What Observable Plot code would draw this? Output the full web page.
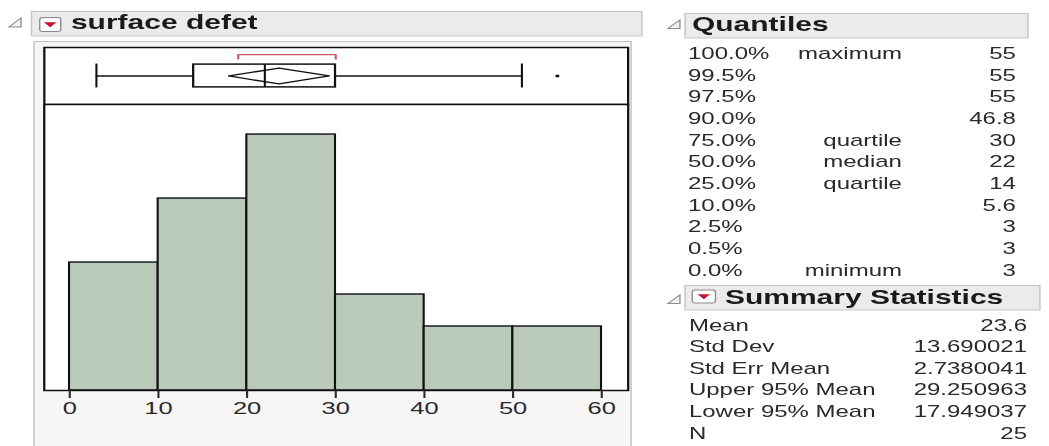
<!DOCTYPE html>
<html>
<head>
<meta charset="utf-8">
<script src="https://cdn.jsdelivr.net/npm/d3@7"></script>
<script src="https://cdn.jsdelivr.net/npm/@observablehq/plot@0.6"></script>
<style>
  html, body { margin: 0; padding: 0; background: #fff; overflow: hidden; width: 1049px; height: 446px; }
  #stage { position: absolute; left: 0; top: 0; width: 699.33px; height: 446px;
           transform: scaleX(1.5); transform-origin: 0 0;
           font-family: "Liberation Sans", Arial, sans-serif; color: #2a2a2a; }
  .layer { position: absolute; }
</style>
</head>
<body>
<div id="stage">
  <svg id="decor" class="layer" style="left:0;top:0" width="699.33" height="446"></svg>
  <div id="boxplot" class="layer" style="left:28.7px;top:47px;width:389.3px;height:57px"></div>
  <div id="hist" class="layer" style="left:28.7px;top:104px;width:389.3px;height:330px"></div>
  <svg id="tables" class="layer" style="left:0;top:0" width="699.33" height="446"></svg>
</div>
<script>
// ---- data ----
const title = "surface defet";
const binEdges = [0, 10, 20, 30, 40, 50, 60];
const binCounts = [4, 6, 8, 3, 2, 2];
const xTicks = [0, 10, 20, 30, 40, 50, 60];
const quartiles = [14, 22, 30];          // Q1, median, Q3
const whiskers = [3, 51];
const outliers = [55];
const meanValue = 23.6;
const meanCI = [17.949037, 29.250963];
const shortestHalf = [19, 30];

const quantilePct = ["100.0%", "99.5%", "97.5%", "90.0%", "75.0%", "50.0%", "25.0%", "10.0%", "2.5%", "0.5%", "0.0%"];
const quantileLabel = ["maximum", "", "", "", "quartile", "median", "quartile", "", "", "", "minimum"];
const quantileValue = ["55", "55", "55", "46.8", "30", "22", "14", "5.6", "3", "3", "3"];
const summaryLabels = ["Mean", "Std Dev", "Std Err Mean", "Upper 95% Mean", "Lower 95% Mean", "N"];
const summaryValues = ["23.6", "13.690021", "2.7380041", "29.250963", "17.949037", "25"];

// ---- decoration (panels, header bars, icons) ----
const decor = d3.select("#decor");
decor.append("rect").attr("x", 22.7).attr("y", 41.5).attr("width", 398).attr("height", 420)
  .attr("fill", "#f6f6f6").attr("stroke", "#c4c4c4").attr("stroke-width", 1);
function headerBar(x, y, w, h) {
  decor.append("rect").attr("x", x).attr("y", y).attr("width", w).attr("height", h)
    .attr("fill", "#ebebeb").attr("stroke", "#c6c6c6").attr("stroke-width", 1);
}
headerBar(21, 11.5, 407, 24.5);
headerBar(456.7, 13.5, 228.6, 24.5);
headerBar(456.7, 285.5, 236.6, 24.5);
function disclosure(xr, yt, yb, w) {
  decor.append("path").attr("d", `M${xr},${yt}L${xr},${yb}L${xr - w},${yb}Z`)
    .attr("fill", "#f2f2f2").attr("stroke", "#8c8c8c").attr("stroke-width", 0.9);
}
disclosure(14, 18, 27, 8);
disclosure(453.3, 20, 28.5, 8);
disclosure(453.3, 295, 303.5, 8);
function redIcon(x, y, w, h) {
  decor.append("rect").attr("x", x).attr("y", y).attr("width", w).attr("height", h).attr("rx", 2)
    .attr("fill", "#fff").attr("stroke", "#8a8a8a").attr("stroke-width", 0.9);
  const cx = x + w / 2, cy = y + h / 2;
  decor.append("path").attr("d", `M${cx - 4.2},${cy - 2.3}L${cx + 4.2},${cy - 2.3}L${cx},${cy + 2.8}Z`)
    .attr("fill", "#c4122f");
}
redIcon(26.5, 17.5, 14, 14);
redIcon(461.5, 290, 15.5, 13);

// ---- box plot strip ----
const xDomain = [-2.876, 62.98];
const W = 389.3;
const boxPlot = Plot.plot({
  width: W, height: 57, margin: 0,
  x: {domain: xDomain, axis: null},
  y: {domain: [-1, 1], axis: null},
  style: {background: "transparent", overflow: "visible"},
  marks: [
    Plot.frame({fill: "#fff", stroke: "#111", strokeWidth: 1.5}),
    Plot.ruleY([{y: 0, a: whiskers[0], b: whiskers[1]}], {y: "y", x1: "a", x2: "b", stroke: "#111", strokeWidth: 1.5}),
    Plot.ruleX(whiskers, {x: d => d, y1: -0.42, y2: 0.42, stroke: "#111", strokeWidth: 1.4}),
    Plot.rect([{a: quartiles[0], b: quartiles[2]}], {x1: "a", x2: "b", y1: -0.4, y2: 0.4, fill: "#fff", stroke: "#111", strokeWidth: 1.5}),
    Plot.line([
      {x: meanCI[0], y: 0}, {x: meanValue, y: 0.28}, {x: meanCI[1], y: 0},
      {x: meanValue, y: -0.28}, {x: meanCI[0], y: 0}
    ], {x: "x", y: "y", stroke: "#111", strokeWidth: 1.3}),
    Plot.ruleX([quartiles[1]], {x: d => d, y1: -0.4, y2: 0.4, stroke: "#111", strokeWidth: 1.4}),
    Plot.dot(outliers, {x: d => d, y: () => 0, r: 1.4, symbol: "square", fill: "#111", stroke: null}),
    Plot.line([
      {x: shortestHalf[0], y: 0.6}, {x: shortestHalf[0], y: 0.75},
      {x: shortestHalf[1], y: 0.75}, {x: shortestHalf[1], y: 0.6}
    ], {x: "x", y: "y", stroke: "#c9566f", strokeWidth: 1.4})
  ]
});
document.getElementById("boxplot").appendChild(boxPlot);

// ---- histogram ----
const bins = binCounts.map((c, i) => ({x1: binEdges[i], x2: binEdges[i + 1], count: c}));
const hist = Plot.plot({
  width: W, height: 286 + 40,
  marginLeft: 0, marginRight: 0, marginTop: 0, marginBottom: 40,
  x: {domain: xDomain},
  y: {domain: [0, 8.94], axis: null},
  style: {background: "transparent", overflow: "visible", fontSize: "17px", fontFamily: "Liberation Sans, Arial, sans-serif"},
  marks: [
    Plot.frame({fill: "#fff", stroke: null}),
    Plot.rectY(bins, {x1: "x1", x2: "x2", y: "count", fill: "#b9c9ba", stroke: "#111", strokeWidth: 1.4, inset: 0}),
    Plot.frame({stroke: "#111", strokeWidth: 1.5}),
    Plot.axisX({ticks: xTicks, tickSize: 8, tickPadding: 3, tickFormat: d => String(d), label: null,
                fontSize: 17, color: "#2a2a2a", strokeWidth: 1.4})
  ]
});
document.getElementById("hist").appendChild(hist);

// ---- text: headers and tables ----
const t = d3.select("#tables");
const FONT = "Liberation Sans, Arial, sans-serif";
function txt(x, y, s, opts = {}) {
  t.append("text").attr("x", x).attr("y", y).text(s)
    .attr("font-family", FONT)
    .attr("font-size", opts.size || 16)
    .attr("font-weight", opts.bold ? "bold" : "normal")
    .attr("text-anchor", opts.anchor || "start")
    .attr("fill", opts.fill || "#2a2a2a");
}
txt(47.3, 29, title, {size: 20, bold: true, fill: "#1a1a1a"});
txt(461.3, 31, "Quantiles", {size: 20, bold: true, fill: "#1a1a1a"});
txt(483.3, 304, "Summary Statistics", {size: 20, bold: true, fill: "#1a1a1a"});

quantilePct.forEach((p, i) => {
  const y = 59 + 21.67 * i;
  txt(458.7, y, p);
  if (quantileLabel[i]) txt(601.3, y, quantileLabel[i], {anchor: "end"});
  txt(677.3, y, quantileValue[i], {anchor: "end"});
});
summaryLabels.forEach((l, i) => {
  const y = 330.7 + 21.6 * i;
  txt(459.3, y, l);
  txt(684.7, y, summaryValues[i], {anchor: "end"});
});
</script>
</body>
</html>
